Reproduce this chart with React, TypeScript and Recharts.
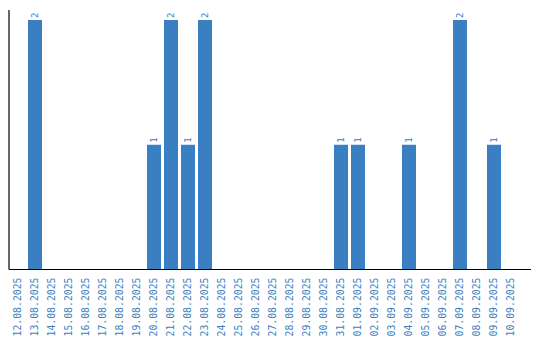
import { BarChart, Bar, XAxis, YAxis, LabelList } from 'recharts';

const dates = [
  '12.08.2025', '13.08.2025', '14.08.2025', '15.08.2025', '16.08.2025', '17.08.2025',
  '18.08.2025', '19.08.2025', '20.08.2025', '21.08.2025', '22.08.2025', '23.08.2025',
  '24.08.2025', '25.08.2025', '26.08.2025', '27.08.2025', '28.08.2025', '29.08.2025',
  '30.08.2025', '31.08.2025', '01.09.2025', '02.09.2025', '03.09.2025', '04.09.2025',
  '05.09.2025', '06.09.2025', '07.09.2025', '08.09.2025', '09.09.2025', '10.09.2025',
];

const counts = [
  0, 2, 0, 0, 0, 0,
  0, 0, 1, 2, 1, 2,
  0, 0, 0, 0, 0, 0,
  0, 1, 1, 0, 0, 1,
  0, 0, 2, 0, 1, 0,
];

const data = dates.map((date, i) => ({ date, count: counts[i] }));

const BLUE = '#3b7fc3';
const FONT = '"DejaVu Sans Mono", monospace';

function DateTick(props: any) {
  const { x, y, payload } = props;
  return (
    <g transform={`translate(${x},${y + 8})`}>
      <text
        transform="rotate(-90)"
        textAnchor="end"
        dy="0.35em"
        fill={BLUE}
        fontSize={9.8}
        fontFamily={FONT}
      >
        {payload.value}
      </text>
    </g>
  );
}

function ValueLabel(props: any) {
  const { x, y, width, value } = props;
  if (!value) return null;
  const cx = x + width / 2;
  return (
    <text
      transform={`translate(${cx},${y - 2}) rotate(-90)`}
      textAnchor="start"
      dy="0.35em"
      fill={BLUE}
      fontSize={9}
      fontFamily={FONT}
    >
      {value}
    </text>
  );
}

export default function App() {
  return (
    <div style={{ width: 532, height: 332 }}>
      <BarChart width={532} height={332} data={data} margin={{ top: 2, right: 9, left: 0, bottom: 0 }}>
        <XAxis
          dataKey="date"
          interval={0}
          tickLine={false}
          tickSize={0}
          tickMargin={0}
          height={70.5}
          padding={{ left: 0, right: 12 }}
          axisLine={{ stroke: '#000', strokeWidth: 1.2 }}
          tick={<DateTick />}
        />
        <YAxis
          width={1}
          domain={[0, 2.08]}
          tick={false}
          tickLine={false}
          axisLine={{ stroke: '#000', strokeWidth: 1.2 }}
        />
        <Bar dataKey="count" fill={BLUE} barSize={14} isAnimationActive={false}>
          <LabelList dataKey="count" content={<ValueLabel />} />
        </Bar>
      </BarChart>
    </div>
  );
}
